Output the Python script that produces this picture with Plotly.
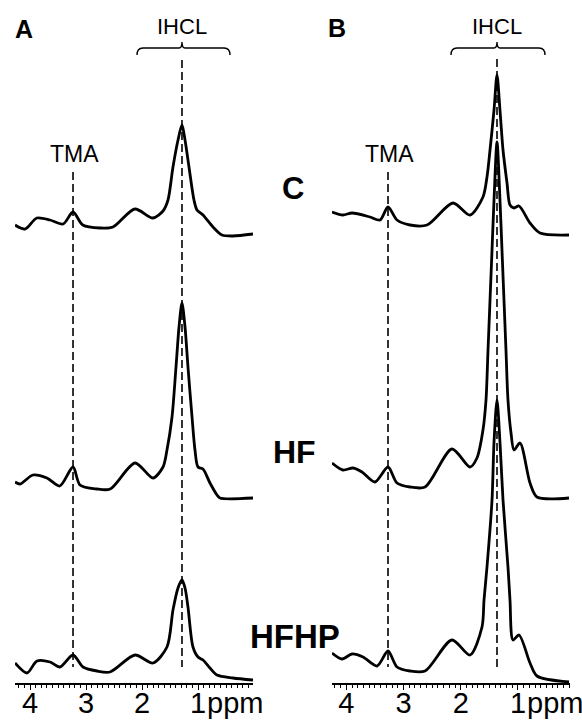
import plotly.graph_objects as go

# ---------------- data (chemical shift in ppm, signal height) ----------------
# Panel A
ppm_a_c = [4.27, 4.09, 3.88, 3.645, 3.41, 3.234, 3.06, 2.75, 2.52, 2.13, 1.81, 1.627, 1.538, 1.449,
           1.359, 1.288, 1.234, 1.163, 1.074, 1.02, 0.913, 0.734, 0.574, 0.377, 0.02]
sig_a_c = [10, 6, 17, 15, 11, 23, 10, 7, 8, 26, 17, 24, 35, 68, 95, 110, 95, 68, 35, 25, 20, 8, 0, -1, 1]

ppm_a_hf = [4.27, 4.18, 3.95, 3.70, 3.47, 3.234, 3.11, 2.81, 2.57, 2.127, 1.806, 1.627, 1.556, 1.466,
            1.395, 1.341, 1.288, 1.234, 1.181, 1.109, 1.056, 1.002, 0.913, 0.788, 0.663, 0.61, 0.02]
sig_a_hf = [16, 14, 23, 20, 12, 31, 13, 9, 9, 35, 20, 31, 48, 81, 131, 171, 195, 171, 131, 81, 48, 31,
            29, 15, 3, 0, 0]

ppm_a_hfhp = [4.27, 4.056, 3.877, 3.645, 3.466, 3.234, 3.056, 2.806, 2.574, 2.127, 1.806, 1.556, 1.449,
              1.359, 1.288, 1.234, 1.181, 1.092, 1.002, 0.913, 0.788, 0.663, 0.377, 0.02]
sig_a_hfhp = [17, 7, 19, 18, 13, 25, 13, 9, 8, 25, 17, 33, 70, 92, 100, 92, 73, 33, 23, 20, 12, 5, 2, 0]

# Panel B
ppm_b_c = [4.25, 4.058, 3.90, 3.586, 3.411, 3.271, 3.114, 2.887, 2.589, 2.135, 1.838, 1.611, 1.541,
           1.488, 1.418, 1.366, 1.314, 1.261, 1.191, 1.139, 1.069, 0.981, 0.789, 0.614, 0.107]
sig_b_c = [23, 20, 22, 18, 15, 28, 15, 10, 10, 32, 20, 38, 58, 85, 125, 160, 125, 85, 52, 30, 27, 29,
           12, 2, 0]

ppm_b_hf = [4.25, 4.058, 3.883, 3.726, 3.498, 3.271, 3.114, 2.887, 2.624, 2.153, 1.838, 1.716, 1.611,
            1.558, 1.523, 1.453, 1.418, 1.366, 1.314, 1.279, 1.209, 1.174, 1.121, 1.069, 0.964, 0.789,
            0.667, 0.107]
sig_b_hf = [35, 28, 30, 26, 16, 31, 15, 11, 11, 49, 31, 40, 68, 98, 148, 248, 298, 356, 298, 248, 148,
            98, 65, 48, 55, 15, 1, 0]

ppm_b_hfhp = [4.25, 4.075, 3.90, 3.708, 3.463, 3.271, 3.114, 2.887, 2.624, 2.153, 1.838, 1.628, 1.593,
              1.541, 1.453, 1.418, 1.366, 1.314, 1.261, 1.174, 1.139, 1.086, 0.981, 0.789, 0.667, 0.107]
sig_b_hfhp = [29, 23, 28, 25, 16, 31, 15, 11, 11, 42, 27, 55, 82, 115, 182, 240, 282, 240, 182, 115,
              82, 42, 47, 19, 6, 0]

groups = ["C", "HF", "HFHP"]
tick_vals = [4, 3, 2, 1]
tick_text = ["4", "3", "2", "1"]
unit_text = "ppm"
tma_ppm_a, ihcl_ppm_a = 3.234, 1.288
tma_ppm_b, ihcl_ppm_b = 3.271, 1.366

# ---------------- layout constants ----------------
W, H = 582, 721
AX_Y = 683                     # pixel row of the x-axis line
offsets = {"C": 448, "HF": 185, "HFHP_A": 3, "HFHP_B": 1}
FONT = "Arial, Liberation Sans, Helvetica, sans-serif"
LINE_W = 2.8
TICK_FS = 29

fig = go.Figure()

panels = [
    ("x", "y", [(ppm_a_c, sig_a_c, offsets["C"]), (ppm_a_hf, sig_a_hf, offsets["HF"]),
                (ppm_a_hfhp, sig_a_hfhp, offsets["HFHP_A"])]),
    ("x2", "y2", [(ppm_b_c, sig_b_c, offsets["C"]), (ppm_b_hf, sig_b_hf, offsets["HF"]),
                  (ppm_b_hfhp, sig_b_hfhp, offsets["HFHP_B"])]),
]
for xa, ya, specs in panels:
    for (px, sig, off), name in zip(specs, groups):
        fig.add_trace(go.Scatter(
            x=px, y=[s + off for s in sig], mode="lines", name=name,
            line=dict(color="black", width=LINE_W, shape="spline", smoothing=0.8),
            xaxis=xa, yaxis=ya, showlegend=False, hoverinfo="skip", cliponaxis=False))

# dashed reference lines
def vline(xref, yref, xv, ytop):
    fig.add_shape(type="line", xref=xref, yref=yref, x0=xv, x1=xv, y0=AX_Y - ytop, y1=AX_Y - 667,
                  line=dict(color="black", width=1.6, dash="8px,4px"), layer="below")

vline("x", "y", tma_ppm_a, 172)
vline("x", "y", ihcl_ppm_a, 60)
vline("x2", "y2", tma_ppm_b, 172)
vline("x2", "y2", ihcl_ppm_b, 59)

# IHCL braces
def brace(xref, yref, xl, xc, xr):
    ye, ya, yc = AX_Y - 55, AX_Y - 48, AX_Y - 42
    d = 0.105
    path = (f"M {xl},{ye} Q {xl},{ya} {xl - d},{ya} L {xc + d/2},{ya} Q {xc},{ya} {xc},{yc} "
            f"Q {xc},{ya} {xc - d/2},{ya} L {xr + d},{ya} Q {xr},{ya} {xr},{ye}")
    fig.add_shape(type="path", xref=xref, yref=yref, path=path,
                  line=dict(color="black", width=1.4))

brace("x", "y", 2.091, ihcl_ppm_a, 0.431)
brace("x2", "y2", 2.170, ihcl_ppm_b, 0.527)

# text labels
def label(text, px, py, size, bold=False):
    fig.add_annotation(text=f"<b>{text}</b>" if bold else text, xref="paper", yref="paper",
                       x=px / W, y=1 - py / H, xanchor="center", yanchor="middle",
                       showarrow=False, font=dict(family=FONT, size=size, color="black"))

label("A", 24, 29, 25, True)
label("B", 337, 28, 25, True)
label("IHCL", 182, 27, 22)
label("IHCL", 497, 27, 22)
label("TMA", 75, 154, 23)
label("TMA", 389, 154, 23)
label("C", 293, 188, 31, True)
label("HF", 294, 452, 32, True)
label("HFHP", 295, 636, 33, True)

# unit label right after the "1" tick label
for xr in ("x", "x2"):
    fig.add_annotation(text=unit_text, xref=xr, yref="paper", x=tick_vals[-1], xshift=8,
                       y=1 - 703 / H, xanchor="left", yanchor="middle", showarrow=False,
                       borderpad=0, font=dict(family=FONT, size=TICK_FS, color="black"))

xaxis_common = dict(
    tickmode="array", tickvals=tick_vals, ticktext=tick_text, ticks="outside", ticklen=5,
    tickwidth=1.4, tickcolor="black", showline=True, linecolor="black", linewidth=1.6,
    showgrid=False, zeroline=False, tickfont=dict(family=FONT, size=TICK_FS, color="black"),
    tickangle=0, automargin=False, ticklabeloverflow="allow", ticklabelstandoff=-12,
    minor=dict(dtick=0.1, tick0=0, ticks="outside", ticklen=3, tickwidth=1, tickcolor="black"),
    fixedrange=True,
)
ydom = [(H - AX_Y) / H, 1]
yaxis_common = dict(range=[0, AX_Y], domain=ydom, visible=False, fixedrange=True, automargin=False)

fig.update_layout(
    width=W, height=H, margin=dict(l=0, r=0, t=0, b=0, autoexpand=False),
    paper_bgcolor="white", plot_bgcolor="white",
    xaxis=dict(domain=[15 / W, 253 / W], range=[4.27, 0.02], anchor="y", **xaxis_common),
    xaxis2=dict(domain=[332 / W, 570 / W], range=[4.25, 0.09], anchor="y2", **xaxis_common),
    yaxis=dict(anchor="x", **yaxis_common),
    yaxis2=dict(anchor="x2", **yaxis_common),
)

fig.write_html("out.html")
